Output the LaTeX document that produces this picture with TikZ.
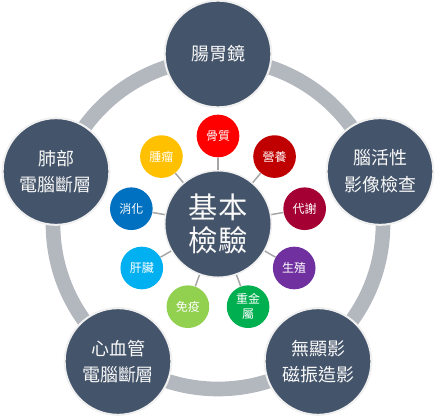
\documentclass[tikz,border=0pt]{standalone}
\usepackage{fontspec}
\usetikzlibrary{calc}
\newfontfamily\cjk{Noto Sans CJK TC}
\definecolor{slate}{HTML}{44546A}
\definecolor{ringgray}{HTML}{B3B7BE}
\definecolor{linkgray}{HTML}{A6A6A6}
\definecolor{cRed}{HTML}{FF0000}
\definecolor{cDarkRed}{HTML}{C00000}
\definecolor{cCrimson}{HTML}{A50034}
\definecolor{cPurple}{HTML}{7030A0}
\definecolor{cGreen}{HTML}{00B050}
\definecolor{cLime}{HTML}{92D050}
\definecolor{cSky}{HTML}{00B0F0}
\definecolor{cBlue}{HTML}{0070C0}
\definecolor{cOrange}{HTML}{FFC000}
\tikzset{
  bigbox/.style={circle, fill=slate, draw=white!88!gray, line width=1.5pt, minimum size=80pt, inner sep=0pt, text=white!95!gray, align=center, font=\cjk\fontsize{13.5}{20}\selectfont},
  hubbox/.style={circle, fill=slate, draw=white!88!gray, line width=1.2pt, minimum size=80pt, inner sep=0pt, text=white!95!gray, align=center, font=\cjk\fontsize{22}{25}\selectfont},
  smallbox/.style={circle, fill=#1, minimum size=32pt, inner sep=0pt, text=white, align=center, font=\cjk\fontsize{9}{11}\selectfont},
  link/.style={draw=linkgray, line width=1.1pt},
  ringline/.style={draw=ringgray, line width=11pt}
}
\begin{document}
\begin{tikzpicture}[x=0.75pt,y=-0.75pt]
\useasboundingbox (0,0) rectangle (440,420);
\coordinate (C) at (218,224);
\draw[ringline] (C) circle (165);
% outer nodes
\node[bigbox] (top) at (218,54) {腸胃鏡};
\node[bigbox] (right) at (380,171.5) {腦活性\\影像檢查};
\node[bigbox] (left) at (56,171.5) {肺部\\電腦斷層};
\node[bigbox] (bl) at (118,361.5) {心血管\\電腦斷層};
\node[bigbox] (br) at (318,361.5) {無顯影\\磁振造影};
% hub
\node[hubbox] (hub) at (C) {基本\\檢驗};
% small nodes
\node[smallbox=cRed] (s1) at ($(C)+(-90:88)$) {骨質};
\node[smallbox=cDarkRed] (s2) at ($(C)+(-50:88)$) {營養};
\node[smallbox=cCrimson] (s3) at ($(C)+(-10:88)$) {代謝};
\node[smallbox=cPurple] (s4) at ($(C)+(30:88)$) {生殖};
\node[smallbox=cGreen] (s5) at ($(C)+(70:88)$) {重金\\屬};
\node[smallbox=cLime] (s6) at ($(C)+(110:88)$) {免疫};
\node[smallbox=cSky] (s7) at ($(C)+(150:88)$) {肝臟};
\node[smallbox=cBlue] (s8) at ($(C)+(190:88)$) {消化};
\node[smallbox=cOrange] (s9) at ($(C)+(230:88)$) {腫瘤};
\foreach \s in {s1,s2,s3,s4,s5,s6,s7,s8,s9} {
  \draw[link] (hub) -- (\s);
}
\end{tikzpicture}
\end{document}
